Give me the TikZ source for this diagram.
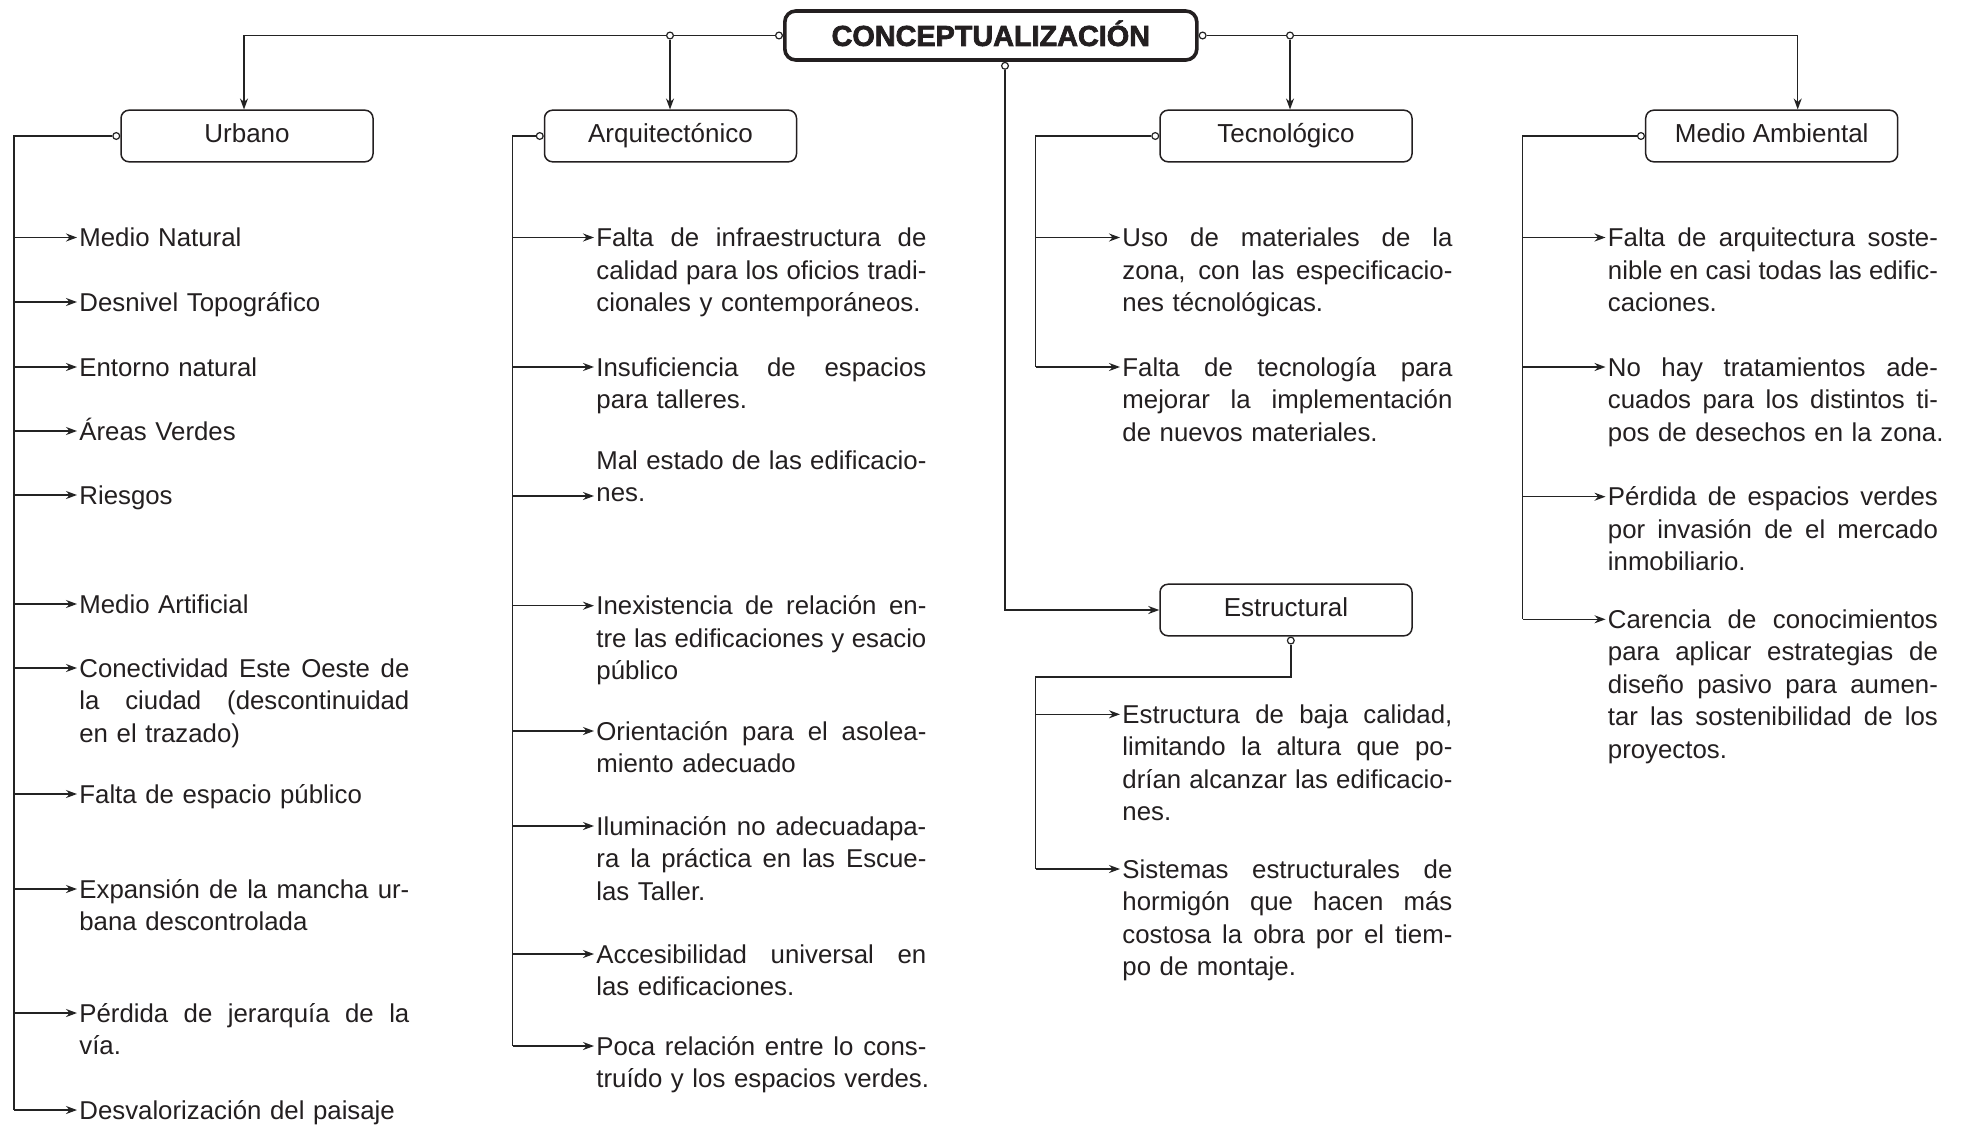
\documentclass[tikz,border=0pt]{standalone}
\usepackage{fontspec}
\setmainfont{Liberation Sans}
\newfontfamily\titlefont{Liberation Sans Bold}[FakeBold=2.5]
\usetikzlibrary{arrows.meta}
\definecolor{ink}{RGB}{35,31,32}
\definecolor{wirec}{RGB}{35,35,35}
\newlength\tw \setlength\tw{165pt}
\newcommand\jl[1]{\makebox[\tw][s]{\spaceskip=\fontdimen2\font plus 1fil\relax #1}}
\newcommand\leaf[6][-4.5pt]{%
  \coordinate (#2a) at (#4,#5);
  \node[item,anchor=base west] (#2) at ([xshift=1pt,yshift=#1]#2a) {#6};
  \draw[arr] (#3 |- #2a) -- (#2a);}
\begin{document}
\begin{tikzpicture}[x=0.5pt,y=-0.5pt,
  wire/.style={draw=wirec, line width=0.75pt},
  arr/.style={wire, -{Stealth[length=5.5pt,width=4pt,inset=1.8pt]}},
  cat/.style={draw=ink, line width=0.75pt, rounded corners=4pt, minimum width=126pt,
    minimum height=25.8pt, inner sep=0pt, text=ink, text height=9.75pt, text depth=3.25pt,
    font=\fontsize{13}{16}\selectfont},
  titlebox/.style={draw=ink, line width=1.8pt, rounded corners=5.5pt, minimum width=206pt,
    minimum height=24.5pt, inner sep=0pt, text=ink, text height=10.4pt, text depth=0pt,
    font=\titlefont\fontsize{14.4}{17}\selectfont},
  item/.style={text width=172pt, align=left, inner sep=0pt, text=ink,
    font=\fontsize{12.9}{16.25}\selectfont},
  dot/.style={circle, draw=wirec, fill=white, line width=0.6pt, inner sep=0pt, minimum size=3.4pt}]
\fill[white] (0,0) rectangle (1962,1125);
\useasboundingbox (0,0) rectangle (1962,1125);

% title and categories
\node[titlebox] (T) at (990.8,35.5) {CONCEPTUALIZACIÓN};
\node[cat] (U) at (247,136) {Urbano};
\node[cat] (A) at (670.5,136) {Arquitectónico};
\node[cat] (Tc) at (1286,136) {Tecnológico};
\node[cat] (M) at (1771.7,136) {Medio Ambiental};
\node[cat] (E) at (1286,610) {Estructural};

% connector dots
\node[dot,anchor=east] (tl) at (T.west) {};
\node[dot,anchor=west] (tr) at (T.east) {};
\node[dot,anchor=north] (tb) at ([xshift=7.1pt]T.south) {};
\node[dot] (ja) at (670,35.5) {};
\node[dot] (jt) at (1290,35.5) {};
\node[dot,anchor=east] (Ud) at (U.west) {};
\node[dot,anchor=east] (Ad) at (A.west) {};
\node[dot,anchor=east] (Td) at (Tc.west) {};
\node[dot,anchor=east] (Md) at (M.west) {};
\node[dot,anchor=north] (Ed) at ([xshift=2.4pt]E.south) {};

% title connectors
\draw[wire] (tl.west) -- (ja.east);
\draw[arr] (ja.west) -| ([xshift=-1.5pt]U.north);
\draw[arr] (ja.south) -- (ja.south |- A.north);
\draw[wire] (tr.east) -- (jt.west);
\draw[arr] (jt.east) -| ([xshift=13pt]M.north);
\draw[arr] (jt.south) -- (jt.south |- Tc.north);
\draw[arr] (tb.south) |- (E.west);

% trunks
\coordinate (Ut) at (14,136);
\coordinate (At) at (512.5,136);
\coordinate (Tt) at (1035.7,136);
\coordinate (Mt) at (1522.7,136);
\coordinate (Et) at (1035.7,677);

% Urbano
\leaf{u1}{Ut}{77}{237.5}{Medio Natural}
\leaf{u2}{Ut}{77}{302}{Desnivel Topográfico}
\leaf{u3}{Ut}{77}{367}{Entorno natural}
\leaf{u4}{Ut}{77}{431}{Áreas Verdes}
\leaf{u5}{Ut}{77}{495}{Riesgos}
\leaf{u6}{Ut}{77}{604}{Medio Artificial}
\leaf{u7}{Ut}{77}{668}{\jl{Conectividad Este Oeste de}\\\jl{la ciudad (descontinuidad}\\en el trazado)}
\leaf{u8}{Ut}{77}{794}{Falta de espacio público}
\leaf{u9}{Ut}{77}{889}{\jl{Expansión de la mancha ur-}\\bana descontrolada}
\leaf{u10}{Ut}{77}{1013}{\jl{Pérdida de jerarquía de la}\\vía.}
\leaf{u11}{Ut}{77}{1110}{Desvalorización del paisaje}

% Arquitectonico
\leaf{a1}{At}{594}{237.5}{\jl{Falta de infraestructura de}\\\jl{calidad para los oficios tradi-}\\cionales y contemporáneos.}
\leaf{a2}{At}{594}{367}{\jl{Insuficiencia de espacios}\\para talleres.}
\leaf[13.5pt]{a3}{At}{594}{496}{\jl{Mal estado de las edificacio-}\\nes.}
\leaf{a4}{At}{594}{605.7}{\jl{Inexistencia de relación en-}\\\jl{tre las edificaciones y esacio}\\público}
\leaf{a5}{At}{594}{731}{\jl{Orientación para el asolea-}\\miento adecuado}
\leaf{a6}{At}{594}{826}{\jl{Iluminación no adecuadapa-}\\\jl{ra la práctica en las Escue-}\\las Taller.}
\leaf{a7}{At}{594}{954}{\jl{Accesibilidad universal en}\\las edificaciones.}
\leaf{a8}{At}{594}{1046}{\jl{Poca relación entre lo cons-}\\truído y los espacios verdes.}

% Tecnologico
\leaf{t1}{Tt}{1120}{237.5}{\jl{Uso de materiales de la}\\\jl{zona, con las especificacio-}\\nes técnológicas.}
\leaf{t2}{Tt}{1120}{367}{\jl{Falta de tecnología para}\\\jl{mejorar la implementación}\\de nuevos materiales.}

% Estructural
\leaf{e1}{Et}{1120}{714.3}{\jl{Estructura de baja calidad,}\\\jl{limitando la altura que po-}\\\jl{drían alcanzar las edificacio-}\\nes.}
\leaf{e2}{Et}{1120}{869}{\jl{Sistemas estructurales de}\\\jl{hormigón que hacen más}\\\jl{costosa la obra por el tiem-}\\po de montaje.}

% Medio Ambiental
\leaf{m1}{Mt}{1605.5}{237.5}{\jl{Falta de arquitectura soste-}\\\jl{nible en casi todas las edific-}\\caciones.}
\leaf{m2}{Mt}{1605.5}{367}{\jl{No hay tratamientos ade-}\\\jl{cuados para los distintos ti-}\\pos de desechos en la zona.}
\leaf{m3}{Mt}{1605.5}{496.7}{\jl{Pérdida de espacios verdes}\\\jl{por invasión de el mercado}\\inmobiliario.}
\leaf{m4}{Mt}{1605.5}{619.3}{\jl{Carencia de conocimientos}\\\jl{para aplicar estrategias de}\\\jl{diseño pasivo para aumen-}\\\jl{tar las sostenibilidad de los}\\proyectos.}

% trunk lines
\draw[wire] (Ud.west) -- (Ut) -- (Ut |- u11a);
\draw[wire] (Ad.west) -- (At) -- (At |- a8a);
\draw[wire] (Td.west) -- (Tt) -- (Tt |- t2a);
\draw[wire] (Md.west) -- (Mt) -- (Mt |- m4a);
\draw[wire] (Ed.south) |- (Et) -- (Et |- e2a);
\end{tikzpicture}
\end{document}
